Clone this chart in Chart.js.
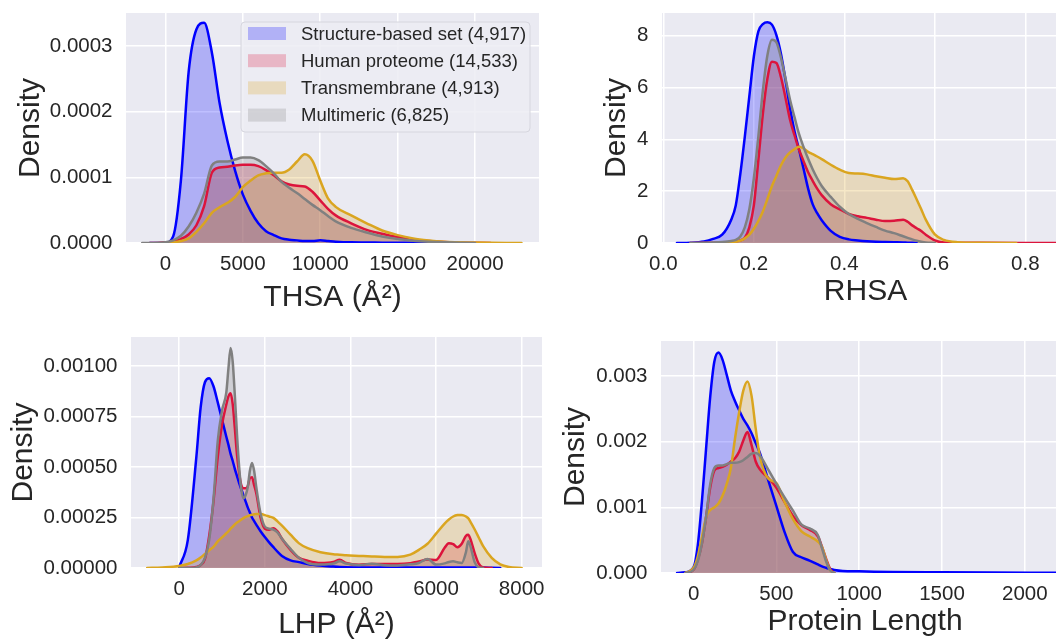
<!DOCTYPE html>
<html>
<head>
<meta charset="utf-8">
<script src="https://cdn.jsdelivr.net/npm/chart.js@4.4.1/dist/chart.umd.min.js"></script>
<style>
    html, body { margin: 0; padding: 0; background: #ffffff; overflow: hidden; }
    #figure { position: relative; width: 1056px; height: 642px; overflow: hidden; }
    #figure canvas { position: absolute; }
</style>
</head>
<body>
<div id="figure">
    <canvas id="thsaChart" width="545" height="321" style="left:0px;top:0px"></canvas>
    <canvas id="rhsaChart" width="545" height="321" style="left:540px;top:0px"></canvas>
    <canvas id="lhpChart" width="570" height="321" style="left:0px;top:321px"></canvas>
    <canvas id="lengthChart" width="545" height="321" style="left:540px;top:321px"></canvas>
</div>
<script>
// ======================================================
// DATA (KDE curves)
// ======================================================

const seriesNames = [
    "Structure-based set (4,917)",
    "Human proteome (14,533)",
    "Transmembrane (4,913)",
    "Multimeric (6,825)"
];

// --- THSA (top left) ---
const thsaX = [-1500, -1000, -500, 0, 500, 1000, 1500, 2000, 2500, 3000, 3500, 4000, 4500, 5000, 5500, 6000, 6500, 7000, 7500, 8000, 8500, 9000, 9500, 10000, 10500, 11000, 12000, 13000, 14000, 15000, 16000, 17000, 18000, 19000, 20000, 21000, 22000, 23000];
const thsaStructure = [null, 0, 0, 0.005e-4, 0.1e-4, 0.95e-4, 2.6e-4, 3.25e-4, 3.35e-4, 2.9e-4, 2.13e-4, 1.56e-4, 1.1e-4, 0.74e-4, 0.49e-4, 0.3e-4, 0.18e-4, 0.12e-4, 0.07e-4, 0.05e-4, 0.04e-4, 0.03e-4, 0.03e-4, 0.04e-4, 0.03e-4, 0.02e-4, 0.01e-4, 0.008e-4, 0.005e-4, 0.003e-4, 0.002e-4, 0, null, null, null, null, null, null];
const thsaHuman = [null, 0, 0, 0.01e-4, 0.02e-4, 0.06e-4, 0.13e-4, 0.27e-4, 0.56e-4, 1.07e-4, 1.15e-4, 1.16e-4, 1.18e-4, 1.19e-4, 1.19e-4, 1.17e-4, 1.11e-4, 1.03e-4, 0.94e-4, 0.89e-4, 0.87e-4, 0.86e-4, 0.78e-4, 0.65e-4, 0.52e-4, 0.42e-4, 0.3e-4, 0.2e-4, 0.14e-4, 0.09e-4, 0.055e-4, 0.03e-4, 0.015e-4, 0.008e-4, 0.004e-4, 0, null, null];
const thsaTransmembrane = [null, null, null, 0, 0.01e-4, 0.03e-4, 0.07e-4, 0.17e-4, 0.3e-4, 0.46e-4, 0.545e-4, 0.61e-4, 0.7e-4, 0.85e-4, 0.95e-4, 1.03e-4, 1.06e-4, 1.07e-4, 1.07e-4, 1.12e-4, 1.24e-4, 1.35e-4, 1.25e-4, 0.95e-4, 0.68e-4, 0.55e-4, 0.42e-4, 0.3e-4, 0.19e-4, 0.12e-4, 0.07e-4, 0.04e-4, 0.02e-4, 0.01e-4, 0.006e-4, 0.003e-4, 0.001e-4, 0];
const thsaMultimeric = [0, 0, 0.003e-4, 0.01e-4, 0.04e-4, 0.11e-4, 0.25e-4, 0.46e-4, 0.75e-4, 1.18e-4, 1.24e-4, 1.24e-4, 1.27e-4, 1.3e-4, 1.3e-4, 1.26e-4, 1.17e-4, 1.06e-4, 0.93e-4, 0.84e-4, 0.76e-4, 0.67e-4, 0.58e-4, 0.5e-4, 0.41e-4, 0.33e-4, 0.23e-4, 0.16e-4, 0.1e-4, 0.06e-4, 0.035e-4, 0.02e-4, 0.01e-4, 0.005e-4, 0, null, null, null];
const thsaXTicks = [0, 5000, 10000, 15000, 20000];
const thsaXLabels = ["0", "5000", "10000", "15000", "20000"];
const thsaYTicks = [0, 0.0001, 0.0002, 0.0003];
const thsaYLabels = ["0.0000", "0.0001", "0.0002", "0.0003"];

// --- RHSA (top right) ---
const rhsaX = [0.03, 0.06, 0.09, 0.11, 0.13, 0.15, 0.16, 0.17, 0.18, 0.19, 0.20, 0.21, 0.22, 0.23, 0.24, 0.25, 0.26, 0.27, 0.28, 0.29, 0.30, 0.31, 0.32, 0.33, 0.34, 0.35, 0.37, 0.39, 0.41, 0.43, 0.45, 0.47, 0.49, 0.51, 0.53, 0.54, 0.55, 0.56, 0.57, 0.58, 0.60, 0.62, 0.65, 0.70, 0.78, 0.86, 0.90];
const rhsaStructure = [0, 0.01, 0.06, 0.16, 0.32, 0.9, 1.45, 2.65, 4.1, 5.66, 7.2, 8.17, 8.45, 8.52, 8.43, 8.02, 7.3, 6.3, 5.2, 4.3, 3.6, 2.86, 2.1, 1.5, 1.15, 0.88, 0.47, 0.24, 0.14, 0.1, 0.07, 0.05, 0.04, 0.03, 0.02, 0.01, 0.005, 0, null, null, null, null, null, null, null, null, null];
const rhsaHuman = [null, 0, 0.005, 0.01, 0.02, 0.04, 0.06, 0.1, 0.2, 0.6, 1.45, 3.2, 5.0, 6.35, 7.0, 6.95, 6.4, 5.6, 4.76, 4.15, 3.6, 3.15, 2.73, 2.4, 2.1, 1.85, 1.5, 1.3, 1.12, 1.03, 0.97, 0.9, 0.85, 0.86, 0.9, 0.82, 0.68, 0.57, 0.46, 0.32, 0.1, 0.02, 0.01, 0.005, 0.002, 0, 0];
const rhsaTransmembrane = [null, null, null, null, 0, 0.02, 0.05, 0.09, 0.18, 0.32, 0.55, 0.85, 1.22, 1.7, 2.2, 2.6, 3.0, 3.3, 3.5, 3.62, 3.72, 3.65, 3.52, 3.43, 3.34, 3.24, 3.02, 2.83, 2.7, 2.68, 2.65, 2.58, 2.52, 2.47, 2.5, 2.38, 2.05, 1.68, 1.3, 0.9, 0.33, 0.12, 0.03, 0.005, 0, null, null];
const rhsaMultimeric = [null, 0, 0.01, 0.02, 0.04, 0.08, 0.12, 0.25, 0.6, 1.3, 2.5, 4.12, 5.9, 7.25, 7.85, 7.75, 7.15, 6.35, 5.53, 4.85, 4.2, 3.7, 3.25, 2.85, 2.5, 2.2, 1.78, 1.4, 1.12, 0.93, 0.77, 0.62, 0.48, 0.38, 0.26, 0.2, 0.14, 0.09, 0.05, 0.02, 0, null, null, null, null, null, null];
const rhsaXTicks = [0, 0.2, 0.4, 0.6, 0.8];
const rhsaXLabels = ["0.0", "0.2", "0.4", "0.6", "0.8"];
const rhsaYTicks = [0, 2, 4, 6, 8];
const rhsaYLabels = ["0", "2", "4", "6", "8"];

// --- LHP (bottom left) ---
const lhpX = [-750, -400, 0, 200, 400, 500, 600, 700, 800, 900, 1000, 1100, 1150, 1200, 1250, 1300, 1350, 1400, 1450, 1500, 1550, 1600, 1650, 1700, 1750, 1800, 1900, 2000, 2100, 2200, 2300, 2400, 2600, 2800, 3000, 3300, 3600, 3750, 3900, 4200, 4500, 4800, 5100, 5400, 5600, 5800, 6000, 6200, 6300, 6400, 6500, 6600, 6700, 6750, 6800, 6900, 7000, 7100, 7300, 7500, 7700, 8000];
const lhpStructure = [null, null, 0.05e-4, 1.38e-4, 5.5e-4, 7.95e-4, 9.2e-4, 9.4e-4, 9.0e-4, 8.2e-4, 7.35e-4, 6.5e-4, 6.1e-4, 5.65e-4, 5.3e-4, 4.9e-4, 4.55e-4, 4.2e-4, 3.9e-4, 3.6e-4, 3.3e-4, 3.0e-4, 2.75e-4, 2.5e-4, 2.32e-4, 2.15e-4, 1.82e-4, 1.53e-4, 1.27e-4, 1.03e-4, 0.8e-4, 0.6e-4, 0.38e-4, 0.29e-4, 0.2e-4, 0.12e-4, 0.07e-4, 0.05e-4, 0.04e-4, 0.03e-4, 0.03e-4, 0.03e-4, 0.03e-4, 0.03e-4, 0.03e-4, 0.03e-4, 0.03e-4, 0.03e-4, 0.03e-4, 0.03e-4, 0.03e-4, 0.03e-4, 0.03e-4, 0.03e-4, 0.03e-4, 0.03e-4, 0.03e-4, 0.02e-4, 0.01e-4, 0, null, null];
const lhpHuman = [null, null, 0, 0.01e-4, 0.05e-4, 0.15e-4, 0.45e-4, 1.6e-4, 3.3e-4, 5.5e-4, 7.1e-4, 8.1e-4, 8.5e-4, 8.65e-4, 8.1e-4, 6.9e-4, 5.6e-4, 4.7e-4, 4.1e-4, 3.95e-4, 3.95e-4, 4.05e-4, 4.45e-4, 4.5e-4, 4.1e-4, 3.7e-4, 2.5e-4, 1.95e-4, 1.9e-4, 1.97e-4, 1.8e-4, 1.45e-4, 0.9e-4, 0.5e-4, 0.36e-4, 0.25e-4, 0.3e-4, 0.41e-4, 0.25e-4, 0.16e-4, 0.2e-4, 0.2e-4, 0.2e-4, 0.24e-4, 0.32e-4, 0.42e-4, 0.4e-4, 1.0e-4, 1.22e-4, 1.18e-4, 1.03e-4, 1.2e-4, 1.6e-4, 1.65e-4, 1.45e-4, 0.75e-4, 0.2e-4, 0.03e-4, 0, null, null, null];
const lhpTransmembrane = [0, 0.03e-4, 0.1e-4, 0.2e-4, 0.38e-4, 0.52e-4, 0.7e-4, 0.88e-4, 1.05e-4, 1.32e-4, 1.52e-4, 1.72e-4, 1.82e-4, 1.95e-4, 2.05e-4, 2.16e-4, 2.25e-4, 2.32e-4, 2.4e-4, 2.47e-4, 2.53e-4, 2.57e-4, 2.61e-4, 2.64e-4, 2.66e-4, 2.68e-4, 2.67e-4, 2.62e-4, 2.55e-4, 2.48e-4, 2.3e-4, 2.1e-4, 1.65e-4, 1.22e-4, 0.98e-4, 0.78e-4, 0.68e-4, 0.66e-4, 0.63e-4, 0.6e-4, 0.57e-4, 0.55e-4, 0.55e-4, 0.66e-4, 0.9e-4, 1.2e-4, 1.7e-4, 2.2e-4, 2.4e-4, 2.55e-4, 2.62e-4, 2.63e-4, 2.55e-4, 2.47e-4, 2.3e-4, 1.92e-4, 1.5e-4, 1.08e-4, 0.5e-4, 0.18e-4, 0.05e-4, 0];
const lhpMultimeric = [null, null, 0, 0, 0.03e-4, 0.15e-4, 0.5e-4, 1.4e-4, 3.4e-4, 6.3e-4, 7.8e-4, 8.7e-4, 9.9e-4, 10.9e-4, 10.2e-4, 8.5e-4, 6.6e-4, 5.0e-4, 3.9e-4, 3.45e-4, 3.6e-4, 4.0e-4, 4.8e-4, 5.2e-4, 4.8e-4, 4.0e-4, 2.7e-4, 2.05e-4, 1.95e-4, 1.9e-4, 1.75e-4, 1.45e-4, 0.95e-4, 0.5e-4, 0.25e-4, 0.17e-4, 0.22e-4, 0.33e-4, 0.22e-4, 0.15e-4, 0.21e-4, 0.14e-4, 0.13e-4, 0.18e-4, 0.25e-4, 0.45e-4, 0.17e-4, 0.23e-4, 0.3e-4, 0.33e-4, 0.28e-4, 0.25e-4, 0.8e-4, 1.32e-4, 1.1e-4, 0.3e-4, 0.03e-4, 0, null, null, null, null];
const lhpXTicks = [0, 2000, 4000, 6000, 8000];
const lhpXLabels = ["0", "2000", "4000", "6000", "8000"];
const lhpYTicks = [0, 0.00025, 0.0005, 0.00075, 0.001];
const lhpYLabels = ["0.00000", "0.00025", "0.00050", "0.00075", "0.00100"];

// --- Protein length (bottom right) ---
const lengthX = [-100, -50, 0, 25, 50, 75, 100, 125, 150, 175, 200, 225, 250, 275, 300, 325, 350, 375, 400, 450, 500, 550, 600, 650, 700, 750, 775, 800, 825, 850, 900, 1000, 1200, 1500, 1800, 2100, 2300];
const lengthStructure = [0, 0.01e-3, 0.09e-3, 0.42e-3, 1.09e-3, 1.89e-3, 2.68e-3, 3.22e-3, 3.36e-3, 3.25e-3, 3.02e-3, 2.78e-3, 2.62e-3, 2.48e-3, 2.35e-3, 2.25e-3, 2.13e-3, 1.98e-3, 1.83e-3, 1.42e-3, 1.02e-3, 0.62e-3, 0.32e-3, 0.24e-3, 0.19e-3, 0.13e-3, 0.1e-3, 0.08e-3, 0.06e-3, 0.045e-3, 0.03e-3, 0.025e-3, 0.015e-3, 0.01e-3, 0.006e-3, 0.004e-3, 0.003e-3];
const lengthHuman = [null, 0, 0.05e-3, 0.2e-3, 0.45e-3, 0.85e-3, 1.3e-3, 1.56e-3, 1.6e-3, 1.62e-3, 1.65e-3, 1.7e-3, 1.75e-3, 1.85e-3, 2.02e-3, 2.15e-3, 1.95e-3, 1.7e-3, 1.58e-3, 1.45e-3, 1.3e-3, 1.08e-3, 0.87e-3, 0.73e-3, 0.66e-3, 0.56e-3, 0.4e-3, 0.22e-3, 0.06e-3, 0, null, null, null, null, null, null, null];
const lengthTransmembrane = [null, 0, 0.08e-3, 0.25e-3, 0.55e-3, 0.85e-3, 0.96e-3, 1.0e-3, 1.06e-3, 1.18e-3, 1.36e-3, 1.6e-3, 2.05e-3, 2.45e-3, 2.78e-3, 2.92e-3, 2.7e-3, 2.2e-3, 1.78e-3, 1.44e-3, 1.37e-3, 1.08e-3, 0.82e-3, 0.64e-3, 0.56e-3, 0.48e-3, 0.4e-3, 0.2e-3, 0.04e-3, 0, null, null, null, null, null, null, null];
const lengthMultimeric = [null, 0, 0.05e-3, 0.18e-3, 0.45e-3, 0.85e-3, 1.35e-3, 1.6e-3, 1.64e-3, 1.64e-3, 1.66e-3, 1.68e-3, 1.68e-3, 1.69e-3, 1.72e-3, 1.77e-3, 1.82e-3, 1.83e-3, 1.79e-3, 1.58e-3, 1.36e-3, 1.15e-3, 0.95e-3, 0.74e-3, 0.68e-3, 0.58e-3, 0.38e-3, 0.18e-3, 0.04e-3, 0, null, null, null, null, null, null, null];
const lengthXTicks = [0, 500, 1000, 1500, 2000];
const lengthXLabels = ["0", "500", "1000", "1500", "2000"];
const lengthYTicks = [0, 0.001, 0.002, 0.003];
const lengthYLabels = ["0.000", "0.001", "0.002", "0.003"];

// ======================================================
// STYLE
// ======================================================

const lineColors = ["#0000ff", "#dc143c", "#daa520", "#808080"];
const fillColors = ["rgba(0,0,255,0.25)", "rgba(220,20,60,0.25)", "rgba(218,165,32,0.25)", "rgba(128,128,128,0.25)"];

Chart.defaults.font.family = "'Liberation Sans', Arial, sans-serif";
Chart.defaults.color = "#262626";

// grey plot background (seaborn darkgrid)
const plotBackground = {
    id: "plotBackground",
    beforeDraw(chart) {
        const { ctx, chartArea } = chart;
        ctx.save();
        ctx.fillStyle = "#eaeaf2";
        ctx.fillRect(chartArea.left, chartArea.top, chartArea.right - chartArea.left, chartArea.bottom - chartArea.top);
        ctx.restore();
    }
};

// framed legend inside the top-left panel
const boxLegend = {
    id: "boxLegend",
    afterDatasetsDraw(chart) {
        const { ctx, chartArea } = chart;
        const left = chartArea.left + 115;
        const top = chartArea.top + 9;
        const width = 289;
        const height = 110;

        ctx.save();
        ctx.beginPath();
        ctx.roundRect(left, top, width, height, 4);
        ctx.fillStyle = "rgba(236,236,243,0.85)";
        ctx.fill();
        ctx.strokeStyle = "#d6d6de";
        ctx.lineWidth = 1;
        ctx.stroke();

        ctx.font = "18.5px 'Liberation Sans', Arial, sans-serif";
        ctx.textBaseline = "middle";
        ctx.textAlign = "left";

        chart.data.datasets.forEach(function (ds, i) {
            const cy = top + 11.5 + i * 27.2;
            ctx.fillStyle = ds.backgroundColor;
            ctx.fillRect(left + 7, cy - 6.5, 38, 13);
            ctx.fillStyle = "#262626";
            ctx.fillText(ds.label, left + 60, cy + 1);
        });
        ctx.restore();
    }
};

function buildDatasets(xValues, seriesValues) {
    return seriesValues.map(function (values, i) {
        return {
            label: seriesNames[i],
            data: xValues.map(function (x, j) { return { x: x, y: values[j] }; }),
            borderColor: lineColors[i],
            backgroundColor: fillColors[i],
            fill: "origin",
            // first series drawn first, multimeric ends up on top
            order: seriesValues.length - i,
            borderWidth: 2.5,
            borderJoinStyle: "round",
            borderCapStyle: "round",
            pointRadius: 0,
            cubicInterpolationMode: "monotone",
            spanGaps: false
        };
    });
}

function panelOptions(cfg) {
    return {
        responsive: false,
        devicePixelRatio: 1,
        animation: false,
        events: [],
        layout: {
            padding: { left: 0, top: cfg.top, right: cfg.right, bottom: 0 }
        },
        plugins: {
            legend: { display: false },
            tooltip: { enabled: false },
            // all shaded areas first, outlines on top of them
            filler: { drawTime: "beforeDatasetsDraw" }
        },
        scales: {
            x: {
                type: "linear",
                min: cfg.xMin,
                max: cfg.xMax,
                afterFit: function (scale) {
                    scale.height = cfg.xHeight;
                    scale.paddingLeft = 0;
                    scale.paddingRight = 0;
                },
                afterBuildTicks: function (scale) {
                    scale.ticks = cfg.xTicks.map(function (v) { return { value: v }; });
                },
                ticks: {
                    autoSkip: false,
                    maxRotation: 0,
                    padding: 9,
                    font: { size: 20.5 },
                    callback: function (value, index) { return cfg.xLabels[index]; }
                },
                grid: { color: "#ffffff", lineWidth: 1.5, drawTicks: false },
                border: { display: false },
                title: {
                    display: true,
                    text: cfg.xTitle,
                    font: { size: 30, lineHeight: 1 },
                    padding: { top: 0, bottom: cfg.xTitlePad }
                }
            },
            y: {
                type: "linear",
                min: 0,
                max: cfg.yMax,
                afterFit: function (scale) {
                    scale.width = cfg.yWidth;
                    scale.paddingTop = 0;
                    scale.paddingBottom = 0;
                },
                afterBuildTicks: function (scale) {
                    scale.ticks = cfg.yTicks.map(function (v) { return { value: v }; });
                },
                ticks: {
                    autoSkip: false,
                    padding: 13.5,
                    font: { size: 20.5 },
                    callback: function (value, index) { return cfg.yLabels[index]; }
                },
                grid: { color: "#ffffff", lineWidth: 1.5, drawTicks: false },
                border: { display: false },
                title: {
                    display: true,
                    text: "Density",
                    font: { size: 30, lineHeight: 1 },
                    padding: { top: cfg.yTitlePad, bottom: 0 }
                }
            }
        }
    };
}

// ======================================================
// PANELS
// ======================================================

new Chart(document.getElementById("thsaChart"), {
    type: "line",
    data: { datasets: buildDatasets(thsaX, [thsaStructure, thsaHuman, thsaTransmembrane, thsaMultimeric]) },
    options: panelOptions({
        top: 13, right: 6, xHeight: 78, yWidth: 126,
        xMin: -2545, xMax: 24130, yMax: 0.00035,
        xTicks: thsaXTicks, xLabels: thsaXLabels, yTicks: thsaYTicks, yLabels: thsaYLabels,
        xTitle: "THSA (Å²)", xTitlePad: 8, yTitlePad: 16
    }),
    plugins: [plotBackground, boxLegend]
});

new Chart(document.getElementById("rhsaChart"), {
    type: "line",
    data: { datasets: buildDatasets(rhsaX, [rhsaStructure, rhsaHuman, rhsaTransmembrane, rhsaMultimeric]) },
    options: panelOptions({
        top: 13, right: 16, xHeight: 78, yWidth: 122,
        xMin: -0.003, xMax: 0.8966, yMax: 8.88,
        xTicks: rhsaXTicks, xLabels: rhsaXLabels, yTicks: rhsaYTicks, yLabels: rhsaYLabels,
        xTitle: "RHSA", xTitlePad: 14, yTitlePad: 62
    }),
    plugins: [plotBackground]
});

new Chart(document.getElementById("lhpChart"), {
    type: "line",
    data: { datasets: buildDatasets(lhpX, [lhpStructure, lhpHuman, lhpTransmembrane, lhpMultimeric]) },
    options: panelOptions({
        top: 16, right: 28, xHeight: 74, yWidth: 131,
        xMin: -1127, xMax: 8475, yMax: 0.001144,
        xTicks: lhpXTicks, xLabels: lhpXLabels, yTicks: lhpYTicks, yLabels: lhpYLabels,
        xTitle: "LHP (Å²)", xTitlePad: 2, yTitlePad: 9
    }),
    plugins: [plotBackground]
});

new Chart(document.getElementById("lengthChart"), {
    type: "line",
    data: { datasets: buildDatasets(lengthX, [lengthStructure, lengthHuman, lengthTransmembrane, lengthMultimeric]) },
    options: panelOptions({
        top: 20, right: 16, xHeight: 69, yWidth: 121,
        xMin: -197, xMax: 2267, yMax: 0.003537,
        xTicks: lengthXTicks, xLabels: lengthXLabels, yTicks: lengthYTicks, yLabels: lengthYLabels,
        xTitle: "Protein Length", xTitlePad: 5, yTitlePad: 21
    }),
    plugins: [plotBackground]
});
</script>
</body>
</html>
